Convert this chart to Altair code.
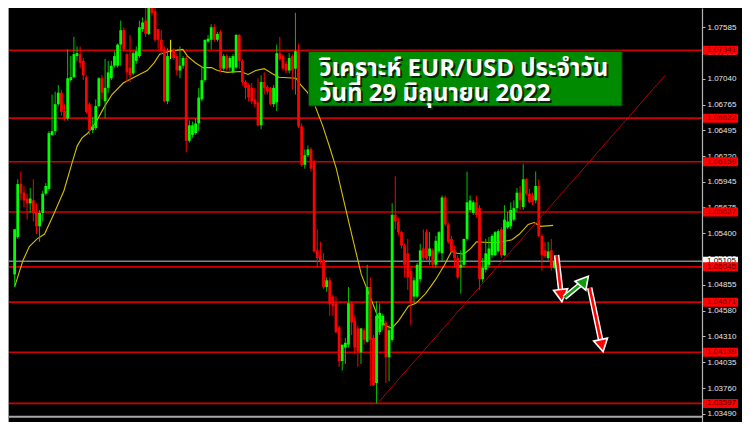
import altair as alt
import pandas as pd

# ---------------- data (EUR/USD) ----------------
opens = [1.04965,1.05362,1.05923,1.05832,1.05770,1.05719,1.05750,1.05628,1.05475,1.05617,
         1.05821,1.05872,1.06444,1.06484,1.06770,1.06892,1.06698,1.06617,1.07025,1.07056,
         1.07280,1.07300,1.07229,1.07056,1.06770,1.06495,1.06515,1.06750,1.07045,1.06801,
         1.06943,1.07045,1.07178,1.07178,1.07402,1.07555,1.07300,1.07158,1.07096,1.07229,
         1.07280,1.07566,1.07657,1.07515,1.07841,1.07759,1.07566,1.07453,1.07351,1.06801,
         1.07331,1.07351,1.07280,1.07127,1.07178,1.07260,1.06382,1.06444,1.06464,1.06566,
         1.06821,1.07025,1.07433,1.07453,1.07586,1.07453,1.07535,1.07147,1.07280,1.07158,
         1.07107,1.07158,1.07504,1.07229,1.07005,1.06974,1.06943,1.06821,1.06790,1.06546,
         1.07005,1.06954,1.06943,1.06770,1.06790,1.07311,1.07280,1.07198,1.07127,1.07280,
         1.07147,1.07331,1.06535,1.06127,1.06229,1.06291,1.06158,1.05220,1.05169,1.05118,
         1.04832,1.04903,1.04730,1.04659,1.04404,1.04047,1.04189,1.04220,1.04659,1.04475,
         1.04393,1.04138,1.04373,1.04251,1.04832,1.04291,1.03812,1.04353,1.04424,1.04455,
         1.04087,1.04271,1.05597,1.05526,1.05413,1.05271,1.05189,1.05005,1.04730,1.04730,
         1.04914,1.05240,1.05413,1.05158,1.05220,1.05067,1.05209,1.05189,1.05781,1.05495,
         1.05342,1.05220,1.05138,1.05036,1.05067,1.05342,1.05648,1.05617,1.05730,1.05668,
         1.04914,1.05016,1.05067,1.05169,1.05169,1.05209,1.05444,1.05169,1.05464,1.05475,
         1.05546,1.05668,1.05832,1.05679,1.05974,1.05821,1.05801,1.05750,1.05903,1.05373,
         1.05220,1.05138,1.05220,1.05036]
highs = [1.05444,1.05974,1.06056,1.05903,1.05821,1.05883,1.05974,1.05719,1.05648,1.05852,
         1.05933,1.06484,1.06872,1.06903,1.06974,1.06923,1.06770,1.07351,1.07280,1.07484,
         1.07382,1.07382,1.07260,1.07076,1.06790,1.06637,1.06821,1.07056,1.07076,1.07249,
         1.07229,1.07229,1.07331,1.07413,1.07657,1.07586,1.07311,1.07504,1.07331,1.07382,
         1.07657,1.07688,1.07790,1.07841,1.07892,1.07841,1.07566,1.07555,1.07382,1.07362,
         1.07453,1.07362,1.07300,1.07382,1.07280,1.07280,1.06597,1.06586,1.06617,1.06943,
         1.07178,1.07453,1.07504,1.07617,1.07617,1.07535,1.07555,1.07300,1.07300,1.07280,
         1.07300,1.07515,1.07515,1.07249,1.07025,1.06994,1.06994,1.06943,1.07045,1.07076,
         1.07107,1.06974,1.06954,1.06974,1.07402,1.07484,1.07300,1.07229,1.07311,1.07300,
         1.07739,1.07413,1.06566,1.06291,1.06331,1.06311,1.06178,1.05444,1.05311,1.05189,
         1.04934,1.04934,1.04750,1.04730,1.04424,1.04220,1.04291,1.04832,1.04679,1.04526,
         1.04424,1.04393,1.04393,1.05067,1.04934,1.04322,1.04679,1.04659,1.04546,1.04475,
         1.04424,1.05719,1.06005,1.05566,1.05424,1.05291,1.05342,1.05036,1.04934,1.05087,
         1.05291,1.05444,1.05444,1.05413,1.05240,1.05373,1.05424,1.05801,1.05801,1.05515,
         1.05373,1.05271,1.05169,1.05220,1.05342,1.06056,1.05801,1.05750,1.05801,1.05699,
         1.05138,1.05342,1.05362,1.05393,1.05424,1.05444,1.05464,1.05699,1.05628,1.05730,
         1.05750,1.05883,1.05903,1.06138,1.05985,1.05872,1.05832,1.06056,1.05974,1.05393,
         1.05311,1.05311,1.05342,1.05158]
lows = [1.04832,1.05342,1.05750,1.05679,1.05546,1.05617,1.05526,1.05393,1.05311,1.05526,
        1.05801,1.05852,1.06433,1.06444,1.06750,1.06648,1.06597,1.06597,1.07005,1.07045,
        1.07229,1.07158,1.07025,1.06668,1.06444,1.06464,1.06495,1.06739,1.06821,1.06617,
        1.06892,1.07025,1.07158,1.07158,1.07178,1.07331,1.07005,1.07005,1.07076,1.07198,
        1.07260,1.07535,1.07484,1.07504,1.07708,1.07433,1.07351,1.07300,1.06790,1.06770,
        1.07249,1.07239,1.07076,1.07045,1.07147,1.06260,1.06362,1.06413,1.06444,1.06484,
        1.06801,1.07005,1.07423,1.07351,1.07433,1.07433,1.07107,1.07127,1.07127,1.07127,
        1.07096,1.07147,1.07147,1.06974,1.06821,1.06801,1.06770,1.06739,1.06535,1.06505,
        1.06872,1.06872,1.06760,1.06739,1.06698,1.07229,1.07127,1.07096,1.07096,1.06923,
        1.06872,1.06515,1.06107,1.06087,1.06209,1.06056,1.05199,1.05036,1.05067,1.04812,
        1.04781,1.04526,1.04526,1.04342,1.03985,1.03945,1.04016,1.04189,1.04322,1.04118,
        1.03985,1.04016,1.04220,1.04240,1.03781,1.03781,1.03597,1.04322,1.04373,1.03812,
        1.03832,1.04251,1.05444,1.05382,1.05240,1.04934,1.04801,1.04424,1.04659,1.04710,
        1.04883,1.05118,1.05118,1.05067,1.05036,1.05036,1.05189,1.05107,1.05475,1.05291,
        1.05189,1.05036,1.04914,1.04761,1.05036,1.05322,1.05628,1.05597,1.05566,1.04801,
        1.04883,1.04985,1.05036,1.05138,1.05158,1.05199,1.05138,1.05158,1.05444,1.05444,
        1.05526,1.05628,1.05648,1.05648,1.05801,1.05719,1.05699,1.05719,1.05362,1.05005,
        1.05138,1.05118,1.05005,1.05026]
closes = [1.05444,1.05923,1.05821,1.05750,1.05719,1.05770,1.05617,1.05475,1.05617,1.05821,
          1.05903,1.06464,1.06484,1.06770,1.06892,1.06688,1.06617,1.07045,1.07056,1.07300,
          1.07311,1.07209,1.07076,1.06688,1.06495,1.06535,1.06750,1.07045,1.06892,1.06943,
          1.07107,1.07178,1.07280,1.07402,1.07555,1.07351,1.07107,1.07076,1.07311,1.07331,
          1.07586,1.07637,1.07515,1.07790,1.07739,1.07453,1.07453,1.07331,1.06801,1.07280,
          1.07331,1.07260,1.07127,1.07178,1.07260,1.06382,1.06546,1.06546,1.06566,1.06841,
          1.07025,1.07453,1.07464,1.07586,1.07453,1.07515,1.07147,1.07280,1.07147,1.07260,
          1.07280,1.07504,1.07229,1.07005,1.06943,1.06841,1.06801,1.06770,1.06546,1.07005,
          1.06943,1.06903,1.06770,1.06943,1.07311,1.07249,1.07147,1.07127,1.07260,1.07127,
          1.07331,1.06535,1.06127,1.06229,1.06291,1.06087,1.05209,1.05138,1.05107,1.04832,
          1.04903,1.04648,1.04628,1.04353,1.04047,1.04220,1.04240,1.04659,1.04455,1.04189,
          1.04149,1.04393,1.04271,1.04832,1.04271,1.03792,1.04526,1.04557,1.04526,1.04087,
          1.04373,1.05597,1.05526,1.05413,1.05271,1.05067,1.04934,1.04659,1.04903,1.05067,
          1.05220,1.05138,1.05138,1.05240,1.05067,1.05322,1.05413,1.05781,1.05495,1.05311,
          1.05209,1.05138,1.04934,1.05067,1.05342,1.05730,1.05750,1.05730,1.05597,1.04914,
          1.05036,1.05189,1.05240,1.05373,1.05413,1.05424,1.05169,1.05546,1.05526,1.05648,
          1.05668,1.05832,1.05750,1.05974,1.05821,1.05730,1.05730,1.05903,1.05373,1.05169,
          1.05158,1.05209,1.05036,1.05105]

# moving average (yellow), sampled along the bars
ma_idx = [0,2.6,4.7,7.2,9.6,12.7,15.8,18.5,20.1,21.6,23.5,26.2,28.7,31.2,34.8,39.5,42.5,44.7,
          46.5,49.6,53.9,55.4,57.9,60.4,63.1,65.0,68.1,72.4,74.8,77.3,80.0,82.5,84.7,90.2,91.7,
          93.9,96.3,98.8,101.0,103.1,106.2,108.6,111.1,113.9,116.3,118.8,120.9,123.1,126.2,
          128.6,131.7,134.8,137.8,140.0,141.9,144.0,146.2,148.0,153.2,156.3,159.4,161.8,164.6,
          166.5,168.6,172.6]
ma_val = [1.04832,1.05107,1.05260,1.05342,1.05393,1.05617,1.05852,1.06158,1.06331,1.06413,
          1.06464,1.06586,1.06739,1.06872,1.06994,1.07076,1.07127,1.07209,1.07300,1.07331,
          1.07351,1.07280,1.07209,1.07158,1.07158,1.07127,1.07107,1.07117,1.07086,1.07127,
          1.07147,1.07096,1.07056,1.07045,1.06974,1.06892,1.06750,1.06535,1.06311,1.06087,
          1.05648,1.05311,1.04965,1.04730,1.04526,1.04424,1.04393,1.04475,1.04628,1.04659,
          1.04761,1.04904,1.05067,1.05209,1.05189,1.05179,1.05240,1.05311,1.05301,1.05311,
          1.05332,1.05393,1.05495,1.05515,1.05475,1.05485]

levels = [1.07341, 1.06622, 1.06159, 1.05627, 1.05045, 1.04671, 1.04139, 1.03597]
current_price = 1.05105
tick_values = [1.07585, 1.07315, 1.07040, 1.06765, 1.06495, 1.06220, 1.05945, 1.05675,
               1.05400, 1.05130, 1.04855, 1.04580, 1.04310, 1.04035, 1.03760, 1.03490]
bottom_price = 1.03455

trend_idx = [116.3, 208.6]
trend_val = [1.03597, 1.07080]

title_lines = ["วิเคราะห์ EUR/USD ประจำวัน", "วันที่ 29 มิถุนายน 2022"]
title_idx = [97.6, 97.6]
title_val = [1.07147, 1.06882]
box_idx = [94.2, 194.7]
box_val = [1.07331, 1.06750]

# arrows: start -> end of shaft, then head
arrow_start_idx = [173.7, 176.2, 184.3]
arrow_start_val = [1.05169, 1.04720, 1.04822]
arrow_end_idx = [175.2, 182.6, 188.2]
arrow_end_val = [1.04740, 1.04895, 1.04210]
arrow_angle = [354, 220, 348]
arrow_colors = ["#ff0000", "#109a10", "#ff0000"]

# ---------------- chart ----------------
W, H = 694, 414
RP = 40

xs = alt.Scale(domain=[-0.52, 218.7], nice=False, zero=False)
ys = alt.Scale(domain=[1.0340, 1.0779], nice=False, zero=False)
yaxis = alt.Axis(orient="right", values=tick_values, format=".5f", labelColor="#e6e6e6",
                 labelFontSize=8, labelFont="Liberation Sans", tickColor="#c0c0c0", tickSize=3,
                 domainColor="#b4b4b4", domainWidth=1.2, grid=False, title=None,
                 labelPadding=2, labelAlign="left", labelBaseline="middle", labelOverlap=False)

def X(f):
    return alt.X(f, type="quantitative", scale=xs, axis=None)

def Y(f):
    return alt.Y(f, type="quantitative", scale=ys, axis=yaxis)

cdf = pd.DataFrame({"idx": list(range(len(opens))), "open": opens, "high": highs,
                    "low": lows, "close": closes})
cdf["dir"] = ["up" if c > o else ("down" if c < o else "doji") for o, c in zip(opens, closes)]

candle_layers = []
for d, wc, bc in [("up", "#00c000", "#00ff00"), ("down", "#ff0000", "#ff0000"), ("doji", "#ffff00", "#ffff00")]:
    sub = cdf[cdf["dir"] == d]
    candle_layers.append(alt.Chart(sub).mark_rule(strokeWidth=1, clip=True, color=wc).encode(
        x=X("idx"), y=Y("low"), y2="high"))
    candle_layers.append(alt.Chart(sub).mark_bar(width=2.8, clip=True, color=bc).encode(
        x=X("idx"), y=Y("open"), y2="close"))

lvl = pd.DataFrame({"level": levels, "label": [f"{v:.5f}" for v in levels]})
level_rules = alt.Chart(lvl).mark_rule(color="#d00000", strokeWidth=1.6).encode(y=Y("level"))
cur = pd.DataFrame({"level": [current_price], "label": [f"{current_price:.5f}"]})
cur_rule = alt.Chart(cur).mark_rule(color="#7a8794", strokeWidth=1.5).encode(y=Y("level"))

ma = alt.Chart(pd.DataFrame({"idx": ma_idx, "val": ma_val})).mark_line(
    color="#d4c000", strokeWidth=1.1, clip=True).encode(x=X("idx"), y=Y("val"))

trend = alt.Chart(pd.DataFrame({"idx": trend_idx, "val": trend_val})).mark_line(
    color="#b00000", strokeWidth=1).encode(x=X("idx"), y=Y("val"))

bottom = alt.Chart(pd.DataFrame({"v": [bottom_price]})).mark_rule(
    color="#a8a8a8", strokeWidth=2).encode(y=Y("v"))
left = alt.Chart(pd.DataFrame({"v": [0]})).mark_rule(color="#9a9a9a", strokeWidth=1).encode(
    x=alt.value(0.5))

# title box
box = alt.Chart(pd.DataFrame({"x1": [box_idx[0]], "x2": [box_idx[1]],
                              "y1": [box_val[0]], "y2": [box_val[1]]})).mark_rect(
    fill="#008a00", stroke="#0b2a0b", strokeWidth=1).encode(
    x=X("x1"), x2="x2", y=Y("y1"), y2="y2")
tdf = pd.DataFrame({"idx": title_idx, "val": title_val, "t": title_lines})
tfont = "Noto Sans Thai, Noto Sans, DejaVu Sans, sans-serif"
tshadow = alt.Chart(tdf).mark_text(align="left", baseline="middle", fontSize=24, fontWeight="bold",
                                   font=tfont, color="#06260a", dx=2, dy=2).encode(
    x=X("idx"), y=Y("val"), text="t:N")
ttext = alt.Chart(tdf).mark_text(align="left", baseline="middle", fontSize=24, fontWeight="bold",
                                 font=tfont, color="#ffffff").encode(
    x=X("idx"), y=Y("val"), text="t:N")

# arrows
arrow_layers = []
for si, sv, ei, ev, ang, col in zip(arrow_start_idx, arrow_start_val, arrow_end_idx,
                                    arrow_end_val, arrow_angle, arrow_colors):
    seg = pd.DataFrame({"o": [0, 1], "idx": [si, ei], "val": [sv, ev]})
    arrow_layers.append(alt.Chart(seg).mark_line(color="white", strokeWidth=5.5, strokeCap="butt").encode(
        x=X("idx"), y=Y("val"), order="o:Q"))
    arrow_layers.append(alt.Chart(seg).mark_line(color=col, strokeWidth=2.6, strokeCap="butt").encode(
        x=X("idx"), y=Y("val"), order="o:Q"))
    head = pd.DataFrame({"idx": [ei], "val": [ev], "ang": [ang]})
    arrow_layers.append(alt.Chart(head).mark_point(shape="triangle-down", filled=True, size=200,
                                                   color=col, fill=col, stroke="white",
                                                   strokeWidth=1.6, opacity=1).encode(
        x=X("idx"), y=Y("val"), angle=alt.Angle("ang:Q", scale=None)))

# price labels on the axis
cur_box = alt.Chart(cur).mark_rect(color="#ffffff", yOffset=-4.5, y2Offset=4.5).encode(
    x=alt.value(W + 1), x2=alt.value(W + 36), y=Y("level"), y2="level")
cur_txt = alt.Chart(cur).mark_text(align="left", baseline="middle", fontSize=8,
                                   font="Liberation Sans", color="#000000").encode(
    x=alt.value(W + 5), y=Y("level"), text="label:N")
lvl_box = alt.Chart(lvl).mark_rect(color="#ff0000", yOffset=-4.5, y2Offset=4.5).encode(
    x=alt.value(W + 1), x2=alt.value(W + 36), y=Y("level"), y2="level")
lvl_txt = alt.Chart(lvl).mark_text(align="left", baseline="middle", fontSize=8,
                                   font="Liberation Sans", color="#5c0000").encode(
    x=alt.value(W + 5), y=Y("level"), text="label:N")

chart = alt.layer(
    level_rules, cur_rule, bottom, left, ma, *candle_layers, trend, box, tshadow, ttext,
    *arrow_layers, cur_box, cur_txt, lvl_box, lvl_txt
).properties(
    width=W, height=H, background="black",
    autosize=alt.AutoSizeParams(type="none"),
    padding={"left": 0, "top": 0, "right": RP, "bottom": 0}
).configure_view(stroke=None, fill="black")

chart.save("out.html", embed_options={"renderer": "svg", "actions": False})
